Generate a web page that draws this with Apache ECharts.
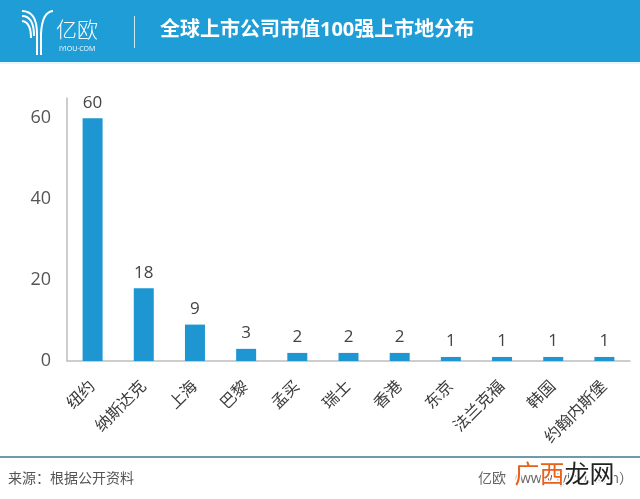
<!DOCTYPE html>
<html>
<head>
<meta charset="utf-8">
<script src="https://cdn.jsdelivr.net/npm/echarts@6/dist/echarts.min.js"></script>
<style>
  html, body { margin: 0; padding: 0; background: #fff; }
  #main { width: 640px; height: 499px; }
</style>
</head>
<body>
<div id="main"></div>
<script>
var cities = ['纽约', '纳斯达克', '上海', '巴黎', '孟买', '瑞士', '香港', '东京', '法兰克福', '韩国', '约翰内斯堡'];
var counts = [60, 18, 9, 3, 2, 2, 2, 1, 1, 1, 1];
var yTicks = [0, 20, 40, 60];

var cjk = "'Open Sans', 'Noto Sans CJK SC', sans-serif";
var white = '#ffffff';

// logo strokes
function curve(x1, y1, cx, cy, x2, y2) {
    return {
        type: 'bezierCurve',
        shape: { x1: x1, y1: y1, cpx1: cx, cpy1: cy, x2: x2, y2: y2 },
        style: { stroke: white, lineWidth: 2, fill: null }
    };
}
function vline(x, y1, y2) {
    return {
        type: 'line',
        shape: { x1: x, y1: y1, x2: x, y2: y2 },
        style: { stroke: white, lineWidth: 2 }
    };
}

var chart = echarts.init(document.getElementById('main'));
var option = {
    backgroundColor: '#fff',
    textStyle: { fontFamily: cjk },
    grid: { left: 67, right: 10, top: 98, bottom: 138, containLabel: false },
    xAxis: {
        type: 'category',
        data: cities,
        axisLine: { lineStyle: { color: '#bdbdbd', width: 1.5 } },
        axisTick: { show: false },
        axisLabel: { interval: 0, rotate: 45, fontSize: 16, color: '#3a3a3a', margin: 23 }
    },
    yAxis: {
        type: 'value',
        min: 0,
        max: 65,
        interval: 20,
        axisLine: { show: true, lineStyle: { color: '#bdbdbd', width: 1.5 } },
        axisTick: { show: false },
        splitLine: { show: false },
        axisLabel: {
            fontSize: 18, color: '#555', margin: 16, showMaxLabel: false,
            formatter: function (v) { return yTicks.indexOf(v) >= 0 ? v : ''; }
        }
    },
    series: [{
        type: 'bar',
        data: counts,
        barWidth: 20,
        itemStyle: { color: '#1e96d2' },
        label: { show: true, position: 'top', fontSize: 17, color: '#444', distance: 7 }
    }],
    graphic: [
        { type: 'rect', shape: { x: 0, y: 0, width: 640, height: 62 }, style: { fill: '#1f9dd6' } },
        { type: 'rect', shape: { x: 0, y: 62, width: 640, height: 2 }, style: { fill: '#e6f4fb' } },
        curve(22, 11, 37, 11, 37, 34),
        curve(22, 16, 34, 16, 34, 36),
        curve(22, 21, 31, 22, 31, 38),
        curve(53, 11, 42, 12, 41, 34),
        vline(37, 34, 55),
        vline(41, 34, 55),
        { type: 'text', left: 56, top: 21, style: { text: '亿欧', fill: white, fontSize: 21, fontFamily: cjk, fontWeight: 300 } },
        { type: 'text', left: 59, top: 45, style: { text: 'IYIOU·COM', fill: white, fontSize: 7, fontFamily: 'Open Sans' } },
        { type: 'rect', shape: { x: 134, y: 16, width: 1, height: 32 }, style: { fill: '#cde9f7' } },
        { type: 'text', left: 160, top: 20, style: { text: '全球上市公司市值100强上市地分布', fill: white, fontSize: 20, fontWeight: 'bold', fontFamily: cjk } },
        { type: 'rect', shape: { x: 0, y: 456, width: 640, height: 2 }, style: { fill: '#6f9ba8' } },
        { type: 'text', left: 8, top: 472, style: { text: '来源：根据公开资料', fill: '#555', fontSize: 14, fontFamily: cjk } },
        { type: 'text', left: 478, top: 472, style: { text: '亿欧（www.iyiou.com）', fill: '#666', fontSize: 14, fontFamily: cjk } },
        { type: 'text', left: 513, top: 462, style: { text: '广西', fill: '#e8601c', fontSize: 25, fontFamily: cjk, stroke: '#fff', lineWidth: 3 } },
        { type: 'text', left: 563, top: 462, style: { text: '龙网', fill: '#222', fontSize: 25, fontFamily: cjk, stroke: '#fff', lineWidth: 3 } }
    ]
};
chart.setOption(option);
</script>
</body>
</html>
